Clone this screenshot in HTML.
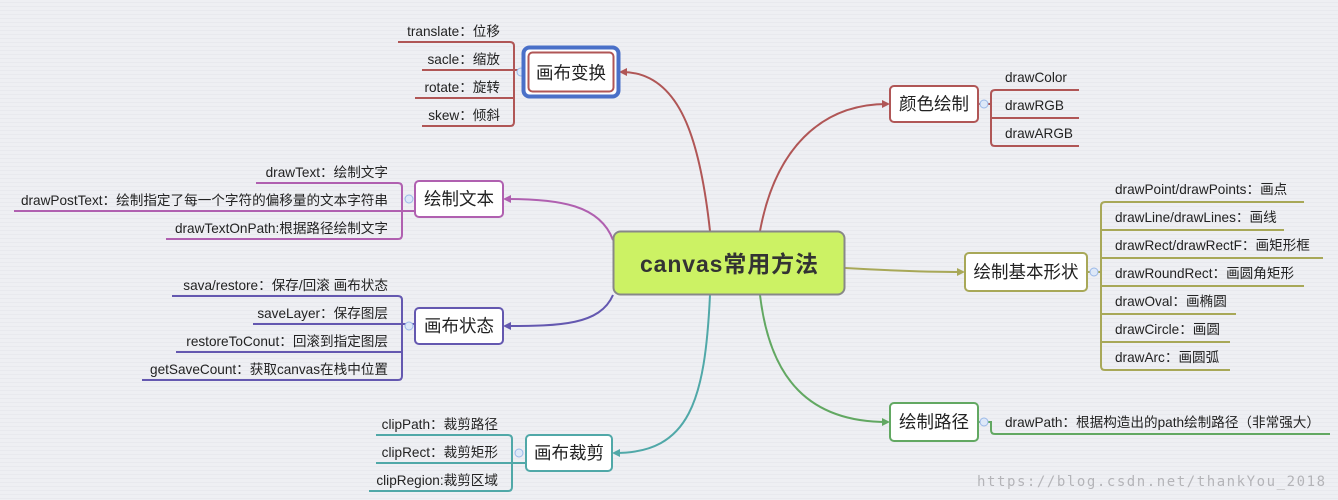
<!DOCTYPE html>
<html><head><meta charset="utf-8"><style>
html,body{margin:0;padding:0;background:#eeeff3;}
svg{display:block;}
text{font-family:"Liberation Sans","Noto Sans CJK SC",sans-serif;fill:#222;}
.l{font-size:13.6px;}
.n{font-size:17.5px;}
</style></head><body>
<svg width="1338" height="500" viewBox="0 0 1338 500" xmlns="http://www.w3.org/2000/svg">
<defs>
<pattern id="st" width="4" height="4" patternUnits="userSpaceOnUse"><rect width="4" height="4" fill="#eeeff3"/><rect y="2" width="4" height="1" fill="#e8e9ee"/></pattern>
</defs>
<rect width="1338" height="500" fill="url(#st)"/>

<g fill="none" stroke-width="2">
<path d="M710 231 C700 140 680 72 622 72" stroke="#b05656"/>
<path d="M613 240 C600 205 560 199 506 199" stroke="#b060b0"/>
<path d="M613 295 C600 325 560 326 506 326" stroke="#6458b0"/>
<path d="M710 295 C705 400 690 453 615 453" stroke="#50a8a8"/>
<path d="M760 231 C775 150 820 104 887 104" stroke="#b05656"/>
<path d="M845 268 C880 270 920 272 962 272" stroke="#a8a858"/>
<path d="M760 295 C770 380 810 422 887 422" stroke="#62a862"/>
</g>
<g>
<polygon points="619,72 627,68 627,76" fill="#b05656"/>
<polygon points="503,199 511,195 511,203" fill="#b060b0"/>
<polygon points="503,326 511,322 511,330" fill="#6458b0"/>
<polygon points="612,453 620,449 620,457" fill="#50a8a8"/>
<polygon points="890,104 882,100 882,108" fill="#b05656"/>
<polygon points="965,272 957,268 957,276" fill="#a8a858"/>
<polygon points="890,422 882,418 882,426" fill="#62a862"/>
</g>

<g fill="none" stroke-width="2">
<g stroke="#b05656">
<path d="M398 42 H510 Q514 42 514 46 V122 Q514 126 510 126 H422"/>
<path d="M422 70 H523"/><path d="M415 98 H514"/>
</g>
<g stroke="#b060b0">
<path d="M256 183 H398 Q402 183 402 187 V235 Q402 239 398 239 H166"/>
<path d="M14 211 H415"/>
</g>
<g stroke="#6458b0">
<path d="M172 296 H398 Q402 296 402 300 V376 Q402 380 398 380 H142"/>
<path d="M253 324 H415"/><path d="M176 352 H402"/>
</g>
<g stroke="#50a8a8">
<path d="M376 435 H508 Q512 435 512 439 V487 Q512 491 508 491 H369"/>
<path d="M376 463 H526"/>
</g>
<g stroke="#b05656">
<path d="M1079 90 H995 Q991 90 991 94 V142 Q991 146 995 146 H1079"/>
<path d="M978 104 H991"/><path d="M991 118 H1079"/>
</g>
<g stroke="#a8a858">
<path d="M1304 202 H1105 Q1101 202 1101 206 V366 Q1101 370 1105 370 H1230"/>
<path d="M1101 230 H1284"/><path d="M1101 258 H1323"/><path d="M1087 272 H1101"/><path d="M1101 286 H1304"/><path d="M1101 314 H1236"/><path d="M1101 342 H1230"/>
</g>
<g stroke="#62a862">
<path d="M978 422 H991 V430 Q991 434 995 434 H1330"/>
</g>
</g>
<g fill="#dde8f8" stroke="#9ab8e8" stroke-width="1">
<circle cx="521" cy="72" r="4"/><circle cx="409" cy="199" r="4"/><circle cx="409" cy="326" r="4"/><circle cx="519" cy="453" r="4"/><circle cx="984" cy="104" r="4"/><circle cx="1094" cy="272" r="4"/><circle cx="984" cy="422" r="4"/>
</g>

<g class="l" text-anchor="end">
<text x="500" y="36">translate：位移</text>
<text x="500" y="64">sacle：缩放</text>
<text x="500" y="92">rotate：旋转</text>
<text x="500" y="120">skew：倾斜</text>
<text x="388" y="177">drawText：绘制文字</text>
<text x="388" y="205">drawPostText：绘制指定了每一个字符的偏移量的文本字符串</text>
<text x="388" y="233">drawTextOnPath:根据路径绘制文字</text>
<text x="388" y="290">sava/restore：保存/回滚 画布状态</text>
<text x="388" y="318">saveLayer：保存图层</text>
<text x="388" y="346">restoreToConut：回滚到指定图层</text>
<text x="388" y="374">getSaveCount：获取canvas在栈中位置</text>
<text x="498" y="429">clipPath：裁剪路径</text>
<text x="498" y="457">clipRect：裁剪矩形</text>
<text x="498" y="485">clipRegion:裁剪区域</text>
</g>
<g class="l">
<text x="1005" y="82">drawColor</text>
<text x="1005" y="110">drawRGB</text>
<text x="1005" y="138">drawARGB</text>
<text x="1115" y="194">drawPoint/drawPoints：画点</text>
<text x="1115" y="222">drawLine/drawLines：画线</text>
<text x="1115" y="250">drawRect/drawRectF：画矩形框</text>
<text x="1115" y="278">drawRoundRect：画圆角矩形</text>
<text x="1115" y="306">drawOval：画椭圆</text>
<text x="1115" y="334">drawCircle：画圆</text>
<text x="1115" y="362">drawArc：画圆弧</text>
<text x="1005" y="427">drawPath：根据构造出的path绘制路径（非常强大）</text>
</g>

<rect x="523.5" y="47.5" width="95" height="49" rx="6" fill="#fff" stroke="#4a70c8" stroke-width="4"/>
<rect x="528.5" y="52.5" width="85" height="39" rx="4" fill="#fff" stroke="#b05656" stroke-width="2"/>
<text class="n" x="571" y="79" text-anchor="middle">画布变换</text>

<rect x="415" y="181" width="88" height="36" rx="4" fill="#fff" stroke="#b060b0" stroke-width="2"/>
<text class="n" x="459" y="205" text-anchor="middle">绘制文本</text>
<rect x="415" y="308" width="88" height="36" rx="4" fill="#fff" stroke="#6458b0" stroke-width="2"/>
<text class="n" x="459" y="332" text-anchor="middle">画布状态</text>
<rect x="526" y="435" width="86" height="36" rx="4" fill="#fff" stroke="#50a8a8" stroke-width="2"/>
<text class="n" x="569" y="459" text-anchor="middle">画布裁剪</text>
<rect x="890" y="86" width="88" height="36" rx="4" fill="#fff" stroke="#b05656" stroke-width="2"/>
<text class="n" x="934" y="110" text-anchor="middle">颜色绘制</text>
<rect x="965" y="253" width="122" height="38" rx="4" fill="#fff" stroke="#a8a858" stroke-width="2"/>
<text class="n" x="1026" y="278" text-anchor="middle">绘制基本形状</text>
<rect x="890" y="403" width="88" height="38" rx="4" fill="#fff" stroke="#62a862" stroke-width="2"/>
<text class="n" x="934" y="428" text-anchor="middle">绘制路径</text>

<rect x="613.5" y="231.5" width="231" height="63" rx="7" fill="#ccf264" stroke="#888" stroke-width="2"/>
<text x="729" y="272" text-anchor="middle" textLength="178" style="font-size:23px;font-weight:bold;fill:#333">canvas常用方法</text>

<text x="977" y="486" textLength="348" style="font-family:'DejaVu Sans Mono','Liberation Mono',monospace;font-size:14px;fill:#b4b4b8">https://blog.csdn.net/thankYou_2018</text>
</svg>
</body></html>
